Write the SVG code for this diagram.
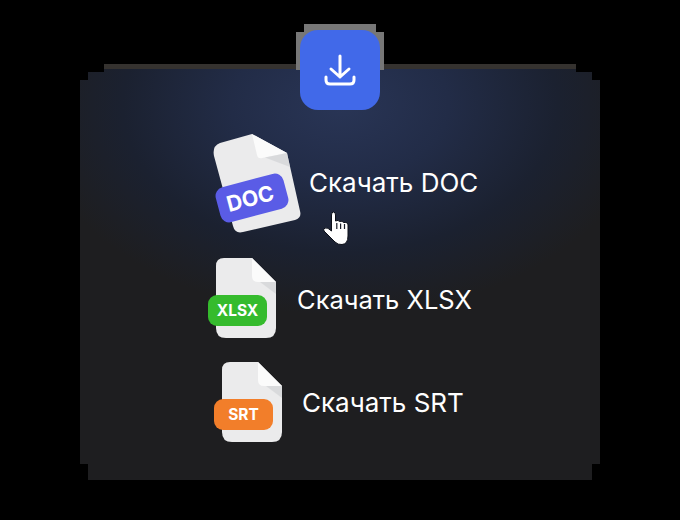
<svg xmlns="http://www.w3.org/2000/svg" width="680" height="520" viewBox="0 0 680 520">
<style>
.lbl{font-family:Inter,"Liberation Sans",sans-serif;font-size:26px;font-weight:400;fill:#fff}
.tag{font-family:Inter,"Liberation Sans",sans-serif;font-weight:700;fill:#fff;text-anchor:middle}
.sheet{fill:#ebebec}
.fold{fill:#fbfbfb}
.shade{fill:#d2d3d5}
</style>
<defs>
<radialGradient id="glow" gradientUnits="userSpaceOnUse" cx="0" cy="0" r="1" gradientTransform="translate(340 105) scale(310 210)">
<stop offset="0" stop-color="#293556"/>
<stop offset="0.35" stop-color="#222c47"/>
<stop offset="0.7" stop-color="#1b2130"/>
<stop offset="1" stop-color="#1e1e20"/>
</radialGradient>
<g id="doc">
<path class="sheet" d="M8 0H36L60 24V70Q60 80 50 80H10Q0 80 0 70V8Q0 0 8 0Z"/>
<path class="fold" d="M36 0L60 24H42Q36 24 36 18Z"/>
<path class="shade" d="M44 24H60V36Z" opacity=".7"/>
</g>
</defs>
<rect width="680" height="520" fill="#000"/>
<g id="panel">
<path fill="#1e1e20" d="M104 64H576V72H592V80H600V464H592V480H88V464H80V80H88V72H104Z"/>
<path fill="url(#glow)" d="M104 64H576V72H592V80H600V464H592V480H88V464H80V80H88V72H104Z"/>
<rect x="104" y="64" width="472" height="5" fill="#35322f"/>
</g>
<g id="download-button">
<path fill="#777" d="M304 24H376V32H384V70H296V32H304Z"/>
<rect x="300" y="30" width="80" height="80" rx="18" fill="#4169e9"/>
<path fill="none" stroke="#fff" stroke-width="3" stroke-linecap="round" stroke-linejoin="round" d="M340 56V77M331 69L340 77L349 69M326 77V80Q326 84 330 84H350Q354 84 354 80V77"/>
</g>
<g id="item-doc">
<path class="sheet" d="M220 143L252 134L287 153L300 211Q302 218 295 220L243 232Q235 234 233 226L214 156Q212 146 220 143Z"/>
<path class="fold" d="M252 134L287 153L262 158Q258 159 257 155Z"/>
<path class="shade" d="M265 157.500L287 153L290 167Z" opacity=".7"/>
<rect x="217" y="180" width="70" height="36" rx="9" fill="#5a5ce6" transform="rotate(-15 252 198)"/>
<text class="tag" x="250" y="206" font-size="21.500" transform="rotate(-15 250 198)">DOC</text>
<text class="lbl" x="309" y="192">Скачать DOC</text>
</g>
<g id="item-xlsx">
<use href="#doc" x="216" y="258"/>
<rect x="208" y="295" width="59" height="31" rx="9" fill="#35bb2d"/>
<text class="tag" x="237.500" y="316" font-size="15.500">XLSX</text>
<text class="lbl" x="297" y="309" style="font-size:25.500px">Скачать XLSX</text>
</g>
<g id="item-srt">
<use href="#doc" x="222" y="362"/>
<rect x="214" y="399" width="59" height="31" rx="9" fill="#f27e2a"/>
<text class="tag" x="243.500" y="420" font-size="15.500">SRT</text>
<text class="lbl" x="302" y="412">Скачать SRT</text>
</g>
<g id="cursor">
<path fill="#fff" stroke="#0c0f18" stroke-width="1" stroke-linejoin="round" d="M331.500 215Q331.500 212 333.500 212Q335.500 212 335.500 215V221Q338.500 219.500 339.500 221.500Q342.500 220.500 343.500 222.500Q348 222 348 225V236Q348 244 342 244.500Q338 245 335 242L324 231Q323 229 325 228Q327.500 227 331.500 231Z"/>
<path stroke="#1a1d28" stroke-width="1.200" fill="none" d="M336.800 223V229M340.600 223.500V229M344.500 224V229"/>
</g>
</svg>
